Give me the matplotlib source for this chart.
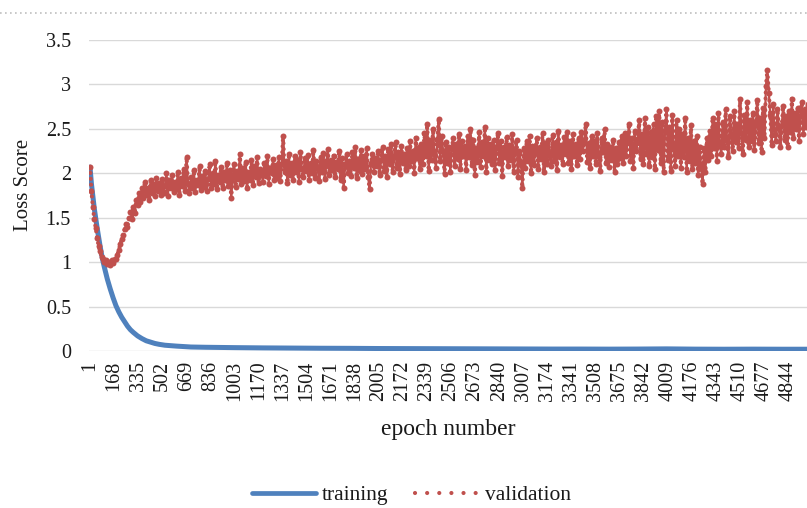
import numpy as np
import matplotlib
matplotlib.use("Agg")
from matplotlib import pyplot as plt
from matplotlib.lines import Line2D

plt.rcParams['font.family'] = ['Liberation Serif', 'DejaVu Serif']

# training loss
train_epochs = [1, 11, 21, 31, 41, 51, 61, 71, 81, 91, 101, 121, 141, 161, 181,
                201, 221, 241, 261, 281, 301, 331, 361, 391, 421, 451, 481, 521,
                561, 601, 651, 701, 801, 901, 1001, 1201, 1401, 1601, 1801, 2001,
                2201, 2401, 2601, 2801, 3001, 3201, 3401, 3601, 3801, 4001, 4201,
                4401, 4601, 4801, 5000]
train_loss = [2.07, 1.88, 1.74, 1.60, 1.49, 1.38, 1.28, 1.18, 1.09, 1.01, 0.94,
              0.81, 0.70, 0.60, 0.51, 0.44, 0.38, 0.33, 0.28, 0.24, 0.21, 0.17,
              0.14, 0.115, 0.10, 0.085, 0.075, 0.065, 0.06, 0.055, 0.05, 0.045,
              0.042, 0.040, 0.038, 0.035, 0.033, 0.031, 0.030, 0.028, 0.027,
              0.026, 0.025, 0.024, 0.023, 0.022, 0.022, 0.021, 0.022, 0.024,
              0.021, 0.020, 0.021, 0.020, 0.020]

# validation loss, one value every 10 epochs (1, 11, 21, ...)
val_epochs = np.arange(1, 5000, 10)
val_loss = [
    2.07, 1.80, 1.62, 1.48, 1.38, 1.27, 1.18, 1.12, 1.06, 1.03,
    1.00, 1.02, 0.98, 1.00, 0.97, 1.02, 0.99, 1.04, 1.03, 1.08,
    1.14, 1.20, 1.26, 1.31, 1.37, 1.43, 1.40, 1.50, 1.56, 1.48,
    1.62, 1.55, 1.70, 1.64, 1.78, 1.68, 1.84, 1.72, 1.90, 1.76,
    1.83, 1.70, 1.92, 1.78, 1.88, 1.74, 1.95, 1.80, 1.89, 1.76,
    1.94, 1.78, 1.86, 2.00, 1.75, 1.92, 1.84, 1.98, 1.79, 1.90,
    1.82, 2.02, 1.76, 1.95, 1.86, 2.05, 1.80, 2.18, 1.88, 1.78,
    1.96, 1.83, 2.04, 1.79, 1.93, 1.87, 2.08, 1.81, 1.97, 1.85,
    2.03, 1.80, 1.94, 2.10, 1.84, 2.00, 1.88, 2.14, 1.82, 1.98,
    1.90, 2.07, 1.83, 2.01, 1.92, 2.12, 1.86, 2.04, 1.72, 1.96,
    2.10, 1.85, 2.03, 1.94, 2.22, 1.88, 2.06, 1.91, 2.13, 1.84,
    2.02, 1.93, 2.15, 1.87, 2.08, 1.96, 2.18, 1.89, 2.05, 1.99,
    1.90, 2.12, 1.97, 2.20, 1.88, 2.06, 2.00, 2.16, 1.92, 2.09,
    1.95, 2.18, 1.91, 2.10, 2.42, 2.02, 2.14, 1.89, 2.22, 1.98,
    2.12, 1.93, 2.20, 2.01, 2.15, 1.90, 2.24, 2.05, 1.96, 2.17,
    2.03, 2.21, 1.92, 2.12, 2.00, 2.26, 1.95, 2.14, 2.06, 1.91,
    2.18, 2.02, 2.23, 1.94, 2.10, 2.27, 1.98, 2.15, 2.04, 2.20,
    1.96, 2.13, 2.05, 2.25, 1.93, 2.17, 1.84, 2.09, 2.22, 2.00,
    2.14, 1.97, 2.24, 2.06, 2.30, 1.95, 2.16, 2.03, 2.26, 1.99,
    2.19, 2.05, 2.28, 1.96, 1.82, 2.12, 2.22, 2.01, 2.17, 2.08,
    2.25, 1.98, 2.15, 2.30, 2.03, 2.20, 1.96, 2.27, 2.10, 2.33,
    2.02, 2.19, 2.35, 2.06, 2.24, 1.99, 2.31, 2.12, 2.22, 2.04,
    2.28, 2.08, 2.36, 2.14, 2.25, 2.00, 2.40, 2.17, 2.30, 2.05,
    2.33, 2.10, 2.45, 2.19, 2.55, 2.03, 2.37, 2.15, 2.50, 2.22,
    2.06, 2.38, 2.61, 2.14, 2.42, 2.25, 1.99, 2.35, 2.12, 2.30,
    2.02, 2.27, 2.40, 2.08, 2.33, 2.16, 2.44, 2.05, 2.36, 2.20,
    2.31, 2.04, 2.42, 2.18, 2.50, 2.09, 2.38, 1.98, 2.29, 2.13,
    2.46, 2.07, 2.35, 2.20, 2.52, 2.01, 2.40, 2.15, 2.33, 2.10,
    2.37, 2.04, 2.28, 2.45, 2.12, 2.36, 1.97, 2.30, 2.18, 2.41,
    2.08, 2.32, 2.15, 2.44, 2.02, 2.27, 2.38, 1.96, 2.25, 2.11,
    1.84, 2.29, 2.06, 2.36, 2.14, 2.42, 2.00, 2.31, 2.09, 2.26,
    2.40, 2.05, 2.30, 2.16, 2.45, 2.02, 2.34, 2.11, 2.38, 2.20,
    2.08, 2.43, 2.14, 2.35, 2.04, 2.48, 2.18, 2.32, 2.10, 2.41,
    2.22, 2.46, 2.12, 2.36, 2.05, 2.44, 2.19, 2.33, 2.09, 2.40,
    2.16, 2.47, 2.25, 2.38, 2.55, 2.13, 2.34, 2.06, 2.42, 2.20,
    2.36, 2.10, 2.45, 2.18, 2.03, 2.40, 2.24, 2.50, 2.12, 2.33,
    2.07, 2.30, 2.15, 2.38, 2.02, 2.28, 2.10, 2.35, 2.17, 2.42,
    2.12, 2.45, 2.20, 2.37, 2.56, 2.14, 2.40, 2.06, 2.48, 2.25,
    2.35, 2.60, 2.16, 2.44, 2.10, 2.62, 2.22, 2.52, 2.08, 2.46,
    2.18, 2.55, 2.05, 2.64, 2.26, 2.70, 2.12, 2.58, 2.01, 2.48,
    2.72, 2.15, 2.52, 2.03, 2.66, 2.30, 2.08, 2.60, 2.20, 2.50,
    2.06, 2.44, 2.18, 2.62, 2.02, 2.40, 2.14, 2.54, 2.05, 2.36,
    2.12, 2.42, 1.98, 2.30, 2.08, 1.88, 2.28, 2.02, 2.40, 2.15,
    2.48, 2.20, 2.62, 2.28, 2.55, 2.14, 2.68, 2.32, 2.22, 2.58,
    2.30, 2.72, 2.38, 2.18, 2.64, 2.42, 2.25, 2.70, 2.35, 2.56,
    2.28, 2.84, 2.45, 2.22, 2.66, 2.38, 2.80, 2.30, 2.60, 2.36,
    2.68, 2.26, 2.55, 2.82, 2.34, 2.62, 2.24, 2.74, 2.40, 2.98,
    3.16, 2.90, 2.66, 2.32, 2.78, 2.44, 2.36, 2.72, 2.52, 2.30,
    2.54, 2.76, 2.38, 2.64, 2.30, 2.70, 2.46, 2.84, 2.40, 2.68,
    2.50, 2.74, 2.36, 2.66, 2.80, 2.44, 2.72, 2.52, 2.78, 2.58,
]

xtick_epochs = [1, 168, 335, 502, 669, 836, 1003, 1170, 1337, 1504, 1671, 1838,
                2005, 2172, 2339, 2506, 2673, 2840, 3007, 3174, 3341, 3508, 3675,
                3842, 4009, 4176, 4343, 4510, 4677, 4844]
ytick_vals = [0, 0.5, 1, 1.5, 2, 2.5, 3, 3.5]
ytick_labels = ['0', '0.5', '1', '1.5', '2', '2.5', '3', '3.5']

blue = '#4F81BD'
red = '#C0504D'
grid_col = '#D9D9D9'
txt = '#1a1a1a'

fig = plt.figure(figsize=(8.07, 5.08), dpi=100)
ax = fig.add_axes([89 / 807, 157 / 508, 718 / 807, 311 / 508])

for y in ytick_vals:
    ax.axhline(y, color=grid_col, lw=1.0, zorder=0)

ax.plot(train_epochs, train_loss, color=blue, lw=3.6, solid_capstyle='round',
        zorder=2)
# validation drawn as a round-dot line, like the spreadsheet; where the
# points are packed tight the dots merge into a solid band
ax.plot(val_epochs[30:], val_loss[30:], color=red, lw=1.6, zorder=3)
ax.plot(val_epochs, val_loss, color=red, lw=3.0, linestyle=(0, (0.01, 1.4)),
        dash_capstyle='round', zorder=3)
ax.plot(val_epochs, val_loss, color=red, lw=0, marker='o', ms=4.3,
        markeredgewidth=0, zorder=3)

ax.set_xlim(-6, 4976)
ax.set_ylim(0, 3.5)
ax.set_yticks(ytick_vals)
ax.set_yticklabels(ytick_labels)
ax.set_xticks(xtick_epochs)
ax.set_xticklabels([str(e) for e in xtick_epochs], rotation=90)
ax.tick_params(axis='both', length=0, labelsize=14.5, colors=txt)
ax.tick_params(axis='y', pad=13)
ax.tick_params(axis='x', pad=7)
for s in ax.spines.values():
    s.set_visible(False)

ax.set_ylabel('Loss Score', fontsize=15, color=txt)
ax.yaxis.set_label_coords(-0.078, 0.535)
ax.set_xlabel('epoch number', fontsize=17, color=txt, labelpad=13)

handles = [Line2D([], [], color=blue, lw=3.4, solid_capstyle='round'),
           Line2D([], [], color=red, lw=3.0, linestyle=(0, (0.01, 2.9)),
                  dash_capstyle='round')]
fig.legend(handles, ['training', 'validation'], loc='center',
           bbox_to_anchor=(0.51, 13 / 508), ncol=2, frameon=False,
           fontsize=15.5, handlelength=3.0, handletextpad=0.25,
           columnspacing=1.25, labelcolor=txt)

# dotted border line across the top
fig.add_artist(Line2D([0, 1], [1 - 13 / 508, 1 - 13 / 508], color='#BFBFBF',
                      lw=1.2, linestyle=(0, (1, 2)), transform=fig.transFigure))

fig.savefig('out.png', dpi=100)
